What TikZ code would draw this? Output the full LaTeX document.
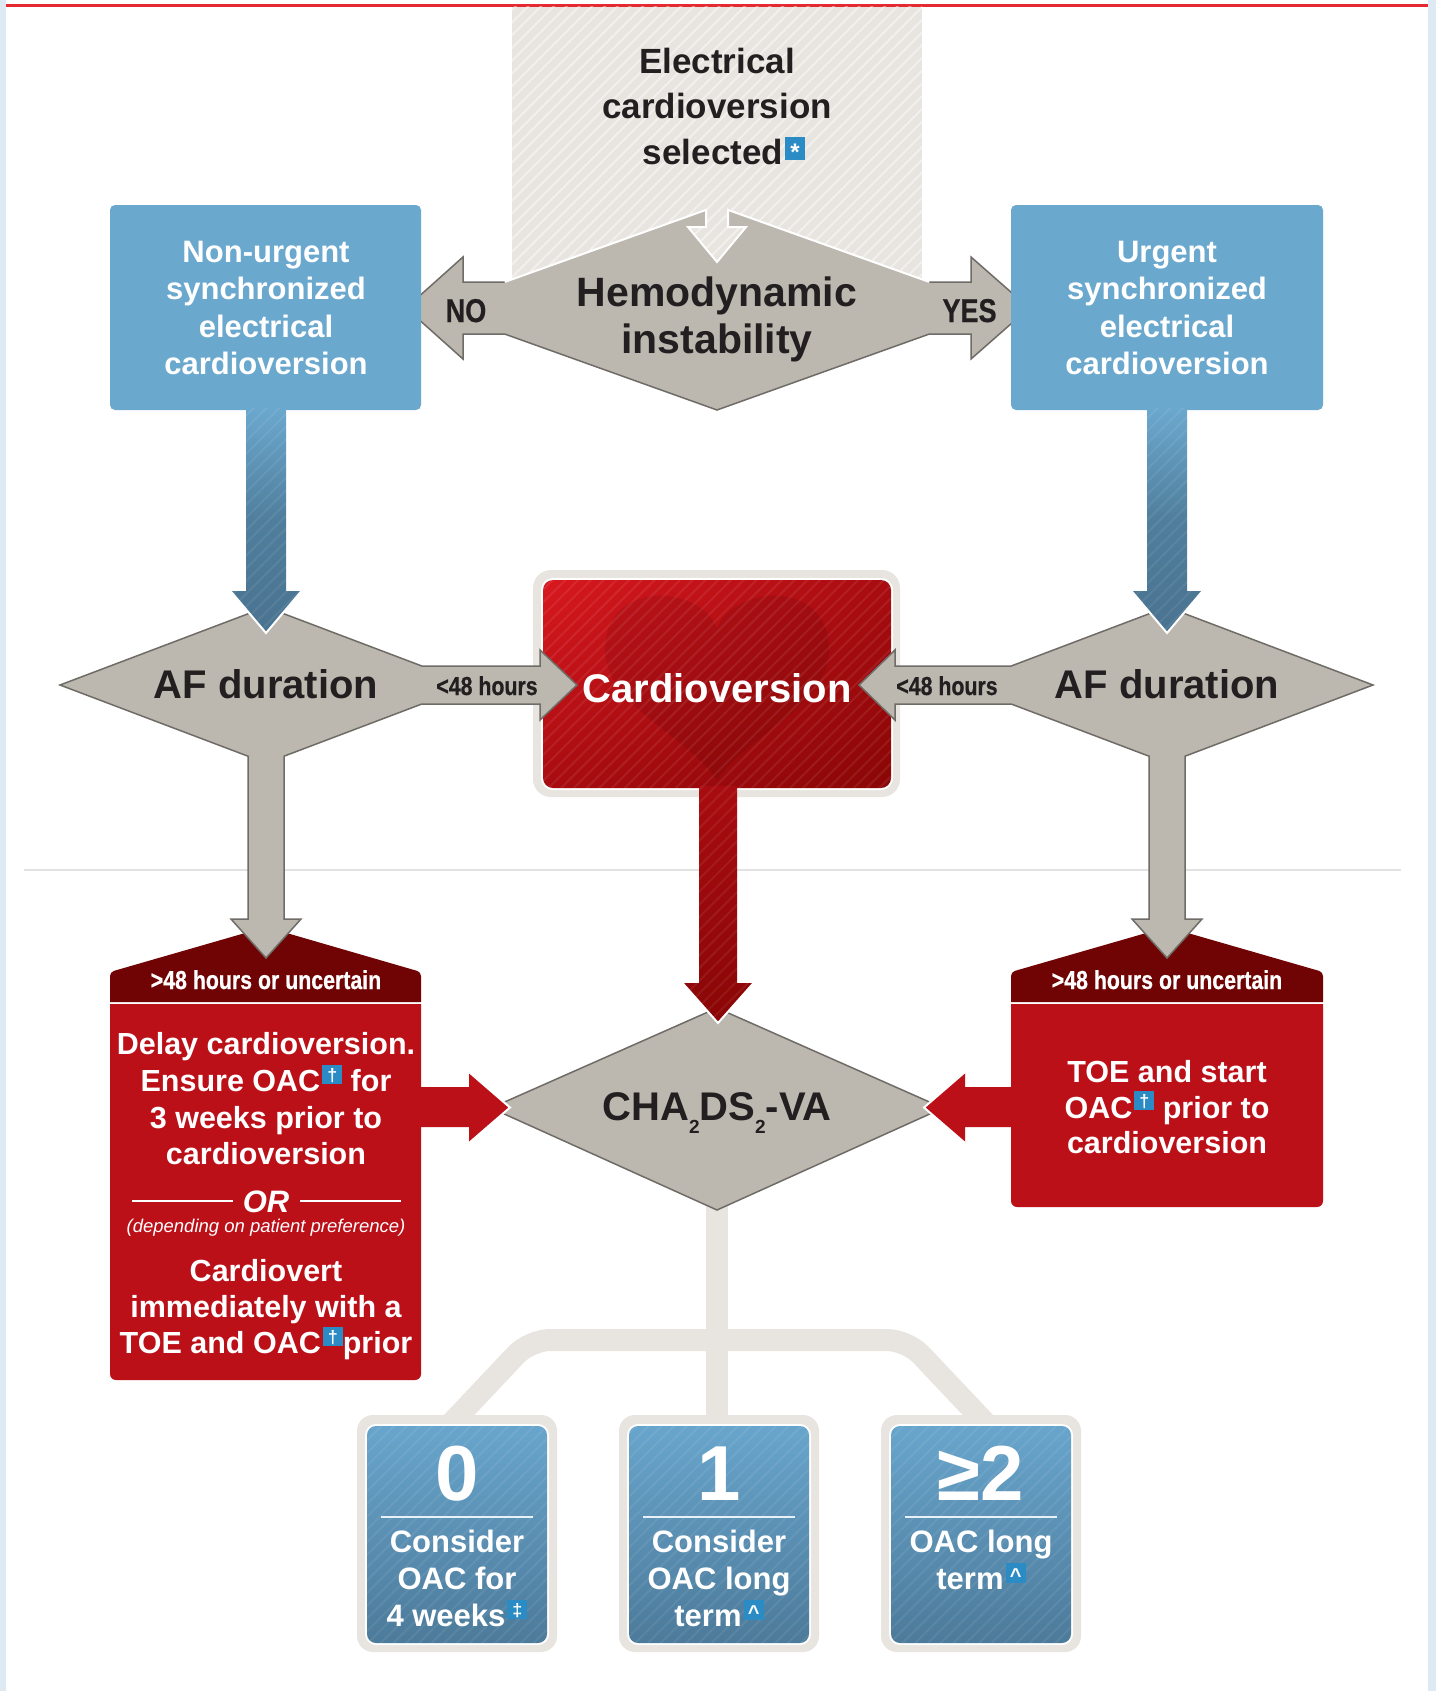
\documentclass[tikz,border=0pt]{standalone}
\usepackage{fontspec}
\setmainfont{Liberation Sans}
\newfontfamily\condfont{Liberation Sans Bold}[FakeStretch=0.82,FakeBold=0.6]
\usetikzlibrary{patterns.meta,shadings}
\definecolor{framebl}{HTML}{DDE9F3}
\definecolor{topred}{HTML}{E42A30}
\definecolor{colgray}{HTML}{E8E5E0}
\definecolor{dgray}{HTML}{BCB8B0}
\definecolor{dstroke}{HTML}{6F6B66}
\definecolor{bluebox}{HTML}{6BA8CE}
\definecolor{bluemid}{HTML}{4F7E9C}
\definecolor{bluedark}{HTML}{4A7390}
\definecolor{bluetop}{HTML}{68A5CC}
\definecolor{bluebot}{HTML}{4C7A9A}
\definecolor{redbody}{HTML}{BC1019}
\definecolor{redhead}{HTML}{700404}
\definecolor{cvA}{HTML}{D8181F}
\definecolor{cvB}{HTML}{A80C10}
\definecolor{cvC}{HTML}{8A0606}
\definecolor{lightfr}{HTML}{E8E4DF}
\definecolor{txtdark}{HTML}{231F20}
\definecolor{badge}{HTML}{2A8BC5}
\definecolor{sepline}{HTML}{E2E2E2}
\newcommand\fsz[2]{\fontsize{#1}{#2}\selectfont}
\newcommand\fnbx[3]{\hspace{2pt}\raisebox{8pt}{\fboxsep=0pt\colorbox{badge}{\makebox[20pt]{\rule{0pt}{19pt}\raisebox{#2}{\fsz{#3}{#3}\bfseries\color{white}#1}}}}}
\newcommand\fnb[1]{\fnbx{#1}{2.5pt}{18}}
\newcommand\stripefill[2]{\begin{scope}[transparency group, opacity=#1]\fill[pattern={Lines[angle=45,distance=9pt,line width=2pt]}, pattern color=white] #2;\end{scope}}
\begin{document}
\begin{tikzpicture}[x=1pt,y=-1pt,
  every node/.style={inner sep=0pt, outer sep=0pt},
  wtxt/.style={text=white, align=center},
  ktxt/.style={text=txtdark, align=center},
  tipline/.style={draw=white, line width=2pt, line join=miter}]
\useasboundingbox (0,0) rectangle (1436,1691);
% frame
\fill[white] (0,0) rectangle (1436,1691);
\fill[framebl] (0,0) rectangle (6,1691);
\fill[framebl] (1428,0) rectangle (1436,1691);
\fill[topred] (6,4) rectangle (1428,7);
\draw[sepline, line width=1.5pt] (24,870) -- (1401,870);
% column
\fill[colgray] (512,7) rectangle (922,290);
\stripefill{0.45}{(512,7) rectangle (922,290)}
% hemodynamic diamond
\fill[dgray] (504.6,282) -- (463,282) -- (463,257) -- (406,308) -- (463,359) -- (463,334) -- (504.6,334) -- (717,410) -- (929.4,334) -- (971,334) -- (971,359) -- (1029,308) -- (971,257) -- (971,282) -- (929.4,282) -- (728,209.9) -- (728,227) -- (746,227) -- (717,262) -- (688,227) -- (706,227) -- (706,209.9) -- cycle;
\draw[white, line width=2pt, line join=miter] (504.6,282) -- (706,209.9) -- (706,227) -- (688,227) -- (717,262) -- (746,227) -- (728,227) -- (728,209.9) -- (929.4,282);
\draw[dstroke, line width=1.5pt] (504.6,282) -- (463,282) -- (463,257) -- (406,308) -- (463,359) -- (463,334) -- (504.6,334) -- (717,410) -- (929.4,334) -- (971,334) -- (971,359) -- (1029,308) -- (971,257) -- (971,282) -- (929.4,282);
% blue boxes
\fill[bluebox, rounded corners=5pt] (110,205) rectangle (421,410);
\fill[bluebox, rounded corners=5pt] (1011,205) rectangle (1323,410);
% cardioversion box
\fill[lightfr, rounded corners=18pt] (533,570) rectangle (900,797);
\fill[white, rounded corners=12pt] (541,578) rectangle (893,790);
\shade[upper left=cvA, upper right=cvB, lower left=cvB, lower right=cvC, rounded corners=10pt] (543,580) rectangle (891,788);
\fill[black, fill opacity=0.08] (717,628) .. controls (700,585) and (605,578) .. (605,650) .. controls (605,705) and (690,738) .. (717,780) .. controls (744,738) and (829,705) .. (829,650) .. controls (829,578) and (734,585) .. (717,628) -- cycle;
\stripefill{0.08}{[rounded corners=10pt] (543,580) rectangle (891,788)}
% red boxes
\fill[redhead] (110,1002) [rounded corners=4pt] -- (110,972) -- (266,927) -- (421,972) [sharp corners] -- (421,1002) -- cycle;
\fill[redbody] (110,1004) [rounded corners=6pt] -- (110,1380) -- (421,1380) [sharp corners] -- (421,1004) -- cycle;
\fill[redhead] (1011,1002) [rounded corners=4pt] -- (1011,972) -- (1167,927) -- (1323,972) [sharp corners] -- (1323,1002) -- cycle;
\fill[redbody] (1011,1004) [rounded corners=6pt] -- (1011,1207) -- (1323,1207) [sharp corners] -- (1323,1004) -- cycle;
% AF diamonds with arrows
\filldraw[fill=dgray, draw=dstroke, line width=1.5pt, line join=miter] (266,607) -- (421.8,666) -- (540,666) -- (540,650) -- (577,685) -- (540,720) -- (540,704) -- (421.8,704) -- (284,756.2) -- (284,919) -- (301,919) -- (266,958) -- (231,919) -- (248,919) -- (248,756.2) -- (60,685) -- cycle;
\filldraw[fill=dgray, draw=dstroke, line width=1.5pt, line join=miter] (1167,607) -- (1373,685) -- (1185,756.2) -- (1185,919) -- (1202,919) -- (1167,958) -- (1132,919) -- (1149,919) -- (1149,756.2) -- (1011.2,704) -- (895,704) -- (895,720) -- (859,685) -- (895,650) -- (895,666) -- (1011.2,666) -- cycle;
% blue arrows
\shade[top color=bluebox, bottom color=bluedark, middle color=bluemid] (246,408) -- (246,591) -- (230.5,591) -- (266,633) -- (301.5,591) -- (286,591) -- (286,408) -- cycle;
\stripefill{0.07}{(246,408) -- (246,591) -- (230.5,591) -- (266,633) -- (301.5,591) -- (286,591) -- (286,408) -- cycle}
\draw[tipline] (230.5,591) -- (266,633) -- (301.5,591);
\shade[top color=bluebox, bottom color=bluedark, middle color=bluemid] (1147,408) -- (1147,591) -- (1131.5,591) -- (1167,633) -- (1202.5,591) -- (1187,591) -- (1187,408) -- cycle;
\stripefill{0.07}{(1147,408) -- (1147,591) -- (1131.5,591) -- (1167,633) -- (1202.5,591) -- (1187,591) -- (1187,408) -- cycle}
\draw[tipline] (1131.5,591) -- (1167,633) -- (1202.5,591);
% tree connector
\draw[lightfr, line width=22pt, rounded corners=20pt] (445,1430) -- (530,1340) -- (907,1340) -- (992,1430);
\draw[lightfr, line width=22pt] (717,1200) -- (717,1420);
% CHA diamond
\filldraw[fill=dgray, draw=dstroke, line width=1.5pt] (717,1008) -- (943,1108) -- (717,1210) -- (491,1108) -- cycle;
% red arrows into CHA
\fill[redbody] (418,1087) -- (469,1087) -- (469,1072) -- (510,1107.5) -- (469,1143) -- (469,1127) -- (418,1127) -- cycle;
\draw[tipline] (469,1072) -- (510,1107.5) -- (469,1143);
\fill[redbody] (1014,1087) -- (965,1087) -- (965,1072) -- (924,1107.5) -- (965,1143) -- (965,1127) -- (1014,1127) -- cycle;
\draw[tipline] (965,1072) -- (924,1107.5) -- (965,1143);
% cardioversion down arrow
\shade[top color=cvB, bottom color=cvC] (699,786) -- (699,983) -- (682.5,983) -- (718,1023) -- (753.5,983) -- (737,983) -- (737,786) -- cycle;
\stripefill{0.07}{(699,786) -- (699,983) -- (682.5,983) -- (718,1023) -- (753.5,983) -- (737,983) -- (737,786) -- cycle}
\draw[tipline] (682.5,983) -- (718,1023) -- (753.5,983);
% bottom boxes
\foreach \cx in {457,719,981}{
  \fill[lightfr, rounded corners=16pt] (\cx-100,1415) rectangle (\cx+100,1652);
  \fill[white, rounded corners=11pt] (\cx-92,1424) rectangle (\cx+92,1645);
  \shade[top color=bluetop, bottom color=bluebot, rounded corners=9pt] (\cx-90,1426) rectangle (\cx+90,1643);
  \stripefill{0.07}{[rounded corners=9pt] (\cx-90,1426) rectangle (\cx+90,1643)}
  \draw[white!85!bluetop, line width=2pt] (\cx-76,1517) -- (\cx+76,1517);
}
% texts
\node[ktxt, font=\fsz{35}{45.5}\bfseries] (sel) at (717,106) {Electrical\\cardioversion\\\hspace{14pt}selected\fnbx{*}{-4pt}{24}};
\node[ktxt, font=\fsz{41}{47}\bfseries] (hemo) at (717,319) {Hemodynamic\\instability};
\node[ktxt, font=\condfont\fsz{33}{33}, anchor=base] (no) at (466,322) {NO};
\node[ktxt, font=\condfont\fsz{33}{33}, anchor=base] (yes) at (969.5,322) {YES};
\node[wtxt, font=\fsz{31}{37.3}\bfseries] (nonurg) at (266,308) {Non-urgent\\synchronized\\electrical\\cardioversion};
\node[wtxt, font=\fsz{31}{37.3}\bfseries] (urg) at (1167,308) {Urgent\\synchronized\\electrical\\cardioversion};
\node[ktxt, font=\fsz{40}{40}\bfseries, anchor=base] (afl) at (266,698) {AF duration};
\node[ktxt, font=\fsz{40}{40}\bfseries, anchor=base] (afr) at (1167,698) {AF duration};
\node[ktxt, font=\condfont\fsz{26}{26}, anchor=base] (lhl) at (487,695) {<48 hours};
\node[ktxt, font=\condfont\fsz{26}{26}, anchor=base] (lhr) at (947,695) {<48 hours};
\node[wtxt, font=\fsz{40}{40}\bfseries, anchor=base] (cv) at (717,702) {Cardioversion};
\node[wtxt, font=\condfont\fsz{26}{26}, anchor=base] (hdl) at (266,989) {>48 hours or uncertain};
\node[wtxt, font=\condfont\fsz{26}{26}, anchor=base] (hdr) at (1167,989) {>48 hours or uncertain};
\node[wtxt, font=\fsz{30.5}{36.7}\bfseries] (delay) at (266,1099) {Delay cardioversion.\\Ensure OAC\fnb{†} for\\3 weeks prior to\\cardioversion};
\node[wtxt, font=\fsz{31}{31}\bfseries\itshape, anchor=base] (or) at (266,1212) {OR};
\draw[white, line width=1.5pt] (132,1201) -- (233,1201);
\draw[white, line width=1.5pt] (300,1201) -- (401,1201);
\node[wtxt, font=\fsz{18.5}{18.5}\itshape, anchor=base] (pref) at (266,1232) {(depending on patient preference)};
\node[wtxt, font=\fsz{30.5}{36}\bfseries] (cvt) at (266,1310) {Cardiovert\\immediately with a\\TOE and OAC\fnb{†}prior};
\node[wtxt, font=\fsz{30.5}{35.5}\bfseries] (toe) at (1167,1107.5) {TOE and start\\OAC\fnb{†} prior to\\cardioversion};
\node[ktxt, font=\fsz{40}{40}\bfseries, anchor=base] (cha) at (717,1120) {CHA\raisebox{-13pt}{\fsz{19}{19}2}DS\raisebox{-13pt}{\fsz{19}{19}2}-VA};
\node[wtxt, font=\fsz{78}{78}\bfseries, anchor=base] (n0) at (457,1500) {0};
\node[wtxt, font=\fsz{78}{78}\bfseries, anchor=base] (n1) at (719,1500) {1};
\node[wtxt, font=\fsz{78}{78}\bfseries, anchor=base] (n2) at (981,1500) {≥2};
\node[wtxt, font=\fsz{31}{37}\bfseries] (t0) at (457,1578.7) {Consider\\OAC for\\4 weeks\fnb{‡}};
\node[wtxt, font=\fsz{31}{37}\bfseries] (t1) at (719,1578.7) {Consider\\OAC long\\term\fnbx{\textasciicircum}{-1pt}{20}};
\node[wtxt, font=\fsz{31}{37}\bfseries] (t2) at (981,1560) {OAC long\\term\fnbx{\textasciicircum}{-1pt}{20}};
\end{tikzpicture}
\end{document}
